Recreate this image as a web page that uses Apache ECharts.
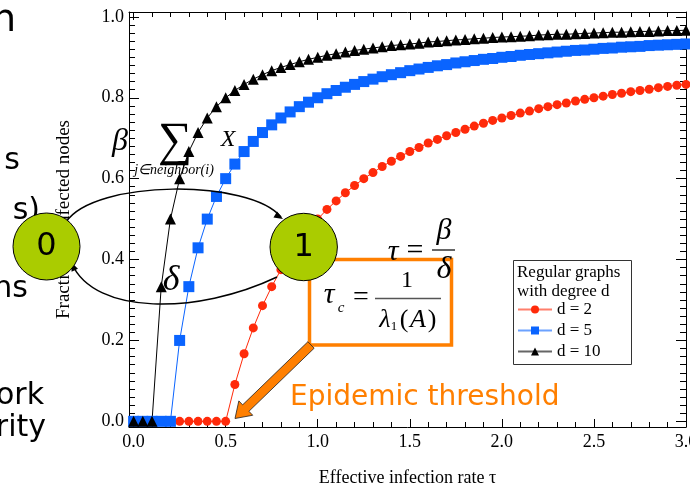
<!DOCTYPE html>
<html>
<head>
<meta charset="utf-8">
<title>Epidemic threshold</title>
<script src="https://cdn.jsdelivr.net/npm/echarts@6/dist/echarts.min.js"></script>
<style>
  html, body { margin: 0; padding: 0; background: #fff; }
  #main { width: 690px; height: 486px; }
</style>
</head>
<body>
<div id="main"></div>
<script>
  // effective infection rate tau (x values)
  const tau = [0.00, 0.05, 0.10, 0.15, 0.20, 0.25, 0.30, 0.35, 0.40, 0.45, 0.50,
    0.55, 0.60, 0.65, 0.70, 0.75, 0.80, 0.85, 0.90, 0.95, 1.00,
    1.05, 1.10, 1.15, 1.20, 1.25, 1.30, 1.35, 1.40, 1.45, 1.50,
    1.55, 1.60, 1.65, 1.70, 1.75, 1.80, 1.85, 1.90, 1.95, 2.00,
    2.05, 2.10, 2.15, 2.20, 2.25, 2.30, 2.35, 2.40, 2.45, 2.50,
    2.55, 2.60, 2.65, 2.70, 2.75, 2.80, 2.85, 2.90, 2.95, 3.00];
  // fraction of infected nodes, regular graphs
  const d2 = [0, 0, 0, 0, 0, 0, 0, 0, 0, 0, 0,
    0.091, 0.167, 0.231, 0.286, 0.333, 0.375, 0.412, 0.444, 0.474, 0.500,
    0.524, 0.545, 0.565, 0.583, 0.600, 0.615, 0.630, 0.643, 0.655, 0.667,
    0.677, 0.688, 0.697, 0.706, 0.714, 0.722, 0.730, 0.737, 0.744, 0.750,
    0.756, 0.762, 0.767, 0.773, 0.778, 0.783, 0.787, 0.792, 0.796, 0.800,
    0.804, 0.808, 0.811, 0.815, 0.818, 0.821, 0.825, 0.828, 0.831, 0.833];
  const d5 = [0, 0, 0, 0, 0,
    0.200, 0.333, 0.429, 0.500, 0.556, 0.600, 0.636, 0.667, 0.692, 0.714, 0.733, 0.750, 0.765, 0.778, 0.789, 0.800,
    0.810, 0.818, 0.826, 0.833, 0.840, 0.846, 0.852, 0.857, 0.862, 0.867,
    0.871, 0.875, 0.879, 0.882, 0.886, 0.889, 0.892, 0.895, 0.897, 0.900,
    0.902, 0.905, 0.907, 0.909, 0.911, 0.913, 0.915, 0.917, 0.918, 0.920,
    0.922, 0.923, 0.925, 0.926, 0.927, 0.929, 0.930, 0.931, 0.932, 0.933];
  const d10 = [0, 0, 0,
    0.333, 0.500, 0.600, 0.667, 0.714, 0.750, 0.778, 0.800,
    0.818, 0.833, 0.846, 0.857, 0.867, 0.875, 0.882, 0.889, 0.895, 0.900,
    0.905, 0.909, 0.913, 0.917, 0.920, 0.923, 0.926, 0.929, 0.931, 0.933,
    0.935, 0.938, 0.939, 0.941, 0.943, 0.944, 0.946, 0.947, 0.949, 0.950,
    0.951, 0.952, 0.953, 0.955, 0.956, 0.957, 0.957, 0.958, 0.959, 0.960,
    0.961, 0.962, 0.962, 0.963, 0.964, 0.964, 0.965, 0.966, 0.966, 0.967];

  // tick labels
  const xMajor = [0, 0.5, 1.0, 1.5, 2.0, 2.5, 3.0];
  const yMajor = [0, 0.2, 0.4, 0.6, 0.8, 1.0];
  const xMinor = [];
  for (let i = 1; i < 30; i++) if (i % 5 !== 0) xMinor.push(i / 10);
  const yMinor = [];
  for (let i = 1; i < 50; i++) if (i % 10 !== 0) yMinor.push(i / 50);

  const serif = 'Liberation Serif';
  const sans = 'DejaVu Sans';
  const orange = '#ff7f00';
  const nodeGreen = '#aacc00';

  let myChart = echarts.init(document.getElementById('main'), null, {renderer: 'canvas'});

  function xAx (pos, ticks, len, main) {
    return {
      type: 'value', position: pos, min: -0.025, max: 3.0,
      axisLine: {show: main, onZero: false, lineStyle: {color: '#000', width: 1}},
      axisTick: {show: true, inside: true, length: len, customValues: ticks, lineStyle: {color: '#000', width: 1}},
      axisLabel: {show: main && pos === 'bottom', customValues: xMajor, formatter: v => v.toFixed(1),
        color: '#000', fontFamily: serif, fontSize: 18, margin: 6, hideOverlap: false},
      splitLine: {show: false}
    };
  }
  function yAx (pos, ticks, len, main) {
    return {
      type: 'value', position: pos, min: -0.014, max: 1.012,
      axisLine: {show: main, onZero: false, lineStyle: {color: '#000', width: 1}},
      axisTick: {show: true, inside: true, length: len, customValues: ticks, lineStyle: {color: '#000', width: 1}},
      axisLabel: {show: main && pos === 'left', customValues: yMajor, formatter: v => v.toFixed(1),
        color: '#000', fontFamily: serif, fontSize: 18, margin: 5},
      splitLine: {show: false}
    };
  }

  let xAxes = [xAx('bottom', xMajor, 8, true), xAx('bottom', xMinor, 5, false),
    xAx('top', xMajor, 8, true), xAx('top', xMinor, 5, false)];
  xAxes[0].name = 'Effective infection rate τ';
  xAxes[0].nameLocation = 'middle';
  xAxes[0].nameGap = 42;
  xAxes[0].nameTextStyle = {color: '#000', fontFamily: serif, fontSize: 18};

  let yAxes = [yAx('left', yMajor, 10, true), yAx('left', yMinor, 6, false),
    yAx('right', yMajor, 10, true), yAx('right', yMinor, 6, false)];
  yAxes[0].name = 'Fraction of infected nodes';
  yAxes[0].nameLocation = 'middle';
  yAxes[0].nameGap = 55;
  yAxes[0].nameTextStyle = {color: '#000', fontFamily: serif, fontSize: 19};

  function pairs (ys) {
    return tau.map((t, i) => [t, ys[i]]);
  }
  function line (name, ys, color, symbol, size) {
    return {
      name: name, type: 'line', xAxisIndex: 0, yAxisIndex: 0,
      data: pairs(ys), symbol: symbol, symbolSize: size, showAllSymbol: true,
      lineStyle: {color: color, width: 1}, itemStyle: {color: color},
      emphasis: {disabled: true}, z: 2
    };
  }

  // small helpers for the overlaid diagram
  function txt (text, x, y, font, fill, align, z) {
    return {type: 'text', z: z || 1, style: {text: text, x: x, y: y, font: font, fill: fill || '#000',
      align: align || 'center', textAlign: align || 'center', verticalAlign: 'middle', textVerticalAlign: 'middle'}};
  }
  function head (tx, ty, dx, dy, len, hw) {
    const L = Math.hypot(dx, dy), ux = dx / L, uy = dy / L;
    const bx = tx - ux * len, by = ty - uy * len;
    return [[tx, ty], [bx - uy * hw, by + ux * hw], [bx + uy * hw, by - ux * hw]];
  }
  function bigArrow (b, t, sw, hl, hw) {
    const dx = t[0] - b[0], dy = t[1] - b[1], L = Math.hypot(dx, dy);
    const ux = dx / L, uy = dy / L, nx = -uy, ny = ux;
    const n = [t[0] - ux * hl, t[1] - uy * hl];
    return [[b[0] + nx * sw, b[1] + ny * sw], [n[0] + nx * sw, n[1] + ny * sw], [n[0] + nx * hw, n[1] + ny * hw],
      t, [n[0] - nx * hw, n[1] - ny * hw], [n[0] - nx * sw, n[1] - ny * sw], [b[0] - nx * sw, b[1] - ny * sw]];
  }

  const slideFont = '30px "' + sans + '"';
  const mathFont = s => 'italic ' + s + 'px "' + serif + '"';
  const upFont = s => s + 'px "' + serif + '"';

  let graphics = [
    // text of the slide behind the chart
    txt('n', 16, 21, '38px "' + sans + '"', '#000', 'right'),
    txt('s', 20, 161, slideFont, '#000', 'right'),
    txt('s)', 40, 211, slideFont, '#000', 'right'),
    txt('ns', 28, 289, slideFont, '#000', 'right'),
    txt('ork', 44, 396, slideFont, '#000', 'right'),
    txt('rity', 46, 428, slideFont, '#000', 'right'),

    // infection term
    txt('β', 120, 142, mathFont(32)),
    txt('∑', 175, 142, upFont(48)),
    txt('j∈neighbor(i)', 174, 170, mathFont(14)),
    txt('X', 228, 140, mathFont(24)),
    txt('i', 241, 152, mathFont(13)),
    txt('δ', 171, 281, mathFont(36)),

    // two-state diagram
    {type: 'bezierCurve', z: 8, shape: {x1: 66, y1: 222, cpx1: 95, cpy1: 179, cpx2: 250, cpy2: 179, x2: 281, y2: 217},
      style: {stroke: '#000', lineWidth: 1.5, fill: null}},
    {type: 'polygon', z: 8, shape: {points: head(283, 219, 0.86, 0.51, 9, 3.5)}, style: {fill: '#000'}},
    {type: 'bezierCurve', z: 8, shape: {x1: 277, y1: 277, cpx1: 197, cpy1: 315, cpx2: 95, cpy2: 315, x2: 72, y2: 264},
      style: {stroke: '#000', lineWidth: 1.5, fill: null}},
    {type: 'polygon', z: 8, shape: {points: head(71, 262, -0.42, -0.91, 9, 3.5)}, style: {fill: '#000'}},
    {type: 'circle', z: 10, shape: {cx: 46.5, cy: 246.5, r: 33.5}, style: {fill: nodeGreen, stroke: '#000', lineWidth: 1}},
    txt('0', 46.5, 247, '32px "' + sans + '"', '#000', 'center', 11),
    {type: 'circle', z: 10, shape: {cx: 303.7, cy: 247, r: 33.7}, style: {fill: nodeGreen, stroke: '#000', lineWidth: 1}},
    txt('1', 303.7, 247.5, '32px "' + sans + '"', '#000', 'center', 11),

    // tau = beta / delta
    txt('τ', 393, 252, mathFont(30), '#000', 'center', 12),
    txt('=', 415, 251, upFont(30), '#000', 'center', 12),
    txt('β', 444, 231, mathFont(30), '#000', 'center', 12),
    {type: 'line', z: 12, shape: {x1: 432, y1: 250, x2: 455, y2: 250}, style: {stroke: '#000', lineWidth: 1.2}},
    txt('δ', 444, 270, mathFont(32), '#000', 'center', 12),

    // threshold box
    {type: 'rect', z: 9, shape: {x: 309.5, y: 259.5, width: 142, height: 85.5},
      style: {fill: '#fff', stroke: orange, lineWidth: 3.5}},
    txt('τ', 329, 295, mathFont(30), '#000', 'center', 11),
    txt('c', 341, 308, mathFont(15), '#000', 'center', 11),
    txt('=', 361, 298, upFont(28), '#000', 'center', 11),
    txt('1', 407, 281, upFont(24), '#000', 'center', 11),
    {type: 'line', z: 11, shape: {x1: 375, y1: 298.5, x2: 441, y2: 298.5}, style: {stroke: '#555', lineWidth: 1.3}},
    txt('λ', 385, 320, mathFont(26), '#000', 'center', 11),
    txt('1', 394, 327, upFont(13), '#000', 'center', 11),
    txt('(', 404, 320, upFont(26), '#000', 'center', 11),
    txt('A', 418, 320, mathFont(26), '#000', 'center', 11),
    txt(')', 432, 320, upFont(26), '#000', 'center', 11),

    // arrow to the threshold
    {type: 'polygon', z: 9, shape: {points: bigArrow([311, 345], [235, 418.5], 4.5, 15, 10)},
      style: {fill: orange, stroke: '#222', lineWidth: 0.8}},
    txt('Epidemic threshold', 290, 398, '28px "' + sans + '"', orange, 'left', 9),

    // legend frame and title
    {type: 'rect', z: 3, shape: {x: 513.5, y: 260.5, width: 118, height: 104},
      style: {fill: '#fff', stroke: '#333', lineWidth: 1}},
    txt('Regular graphs', 517, 273, upFont(17), '#000', 'left', 5),
    txt('with degree d', 517, 292, upFont(17), '#000', 'left', 5)
  ];

  myChart.setOption({
    animation: false,
    backgroundColor: '#fff',
    grid: {left: 129, right: 4, top: 12, bottom: 59, containLabel: false, outerBoundsMode: 'none'},
    legend: {
      orient: 'vertical', left: 517, top: 301, padding: 0,
      itemWidth: 34, itemHeight: 10, itemGap: 4,
      textStyle: {color: '#000', fontFamily: serif, fontSize: 17},
      lineStyle: {opacity: 0.6},
      data: ['d = 2', 'd = 5', 'd = 10'], z: 6
    },
    xAxis: xAxes,
    yAxis: yAxes,
    series: [
      line('d = 2', d2, '#ff2a0a', 'circle', 9),
      line('d = 5', d5, '#0a64ff', 'rect', 11),
      line('d = 10', d10, '#000000', 'triangle', 11)
    ],
    graphic: graphics
  });
</script>
</body>
</html>
